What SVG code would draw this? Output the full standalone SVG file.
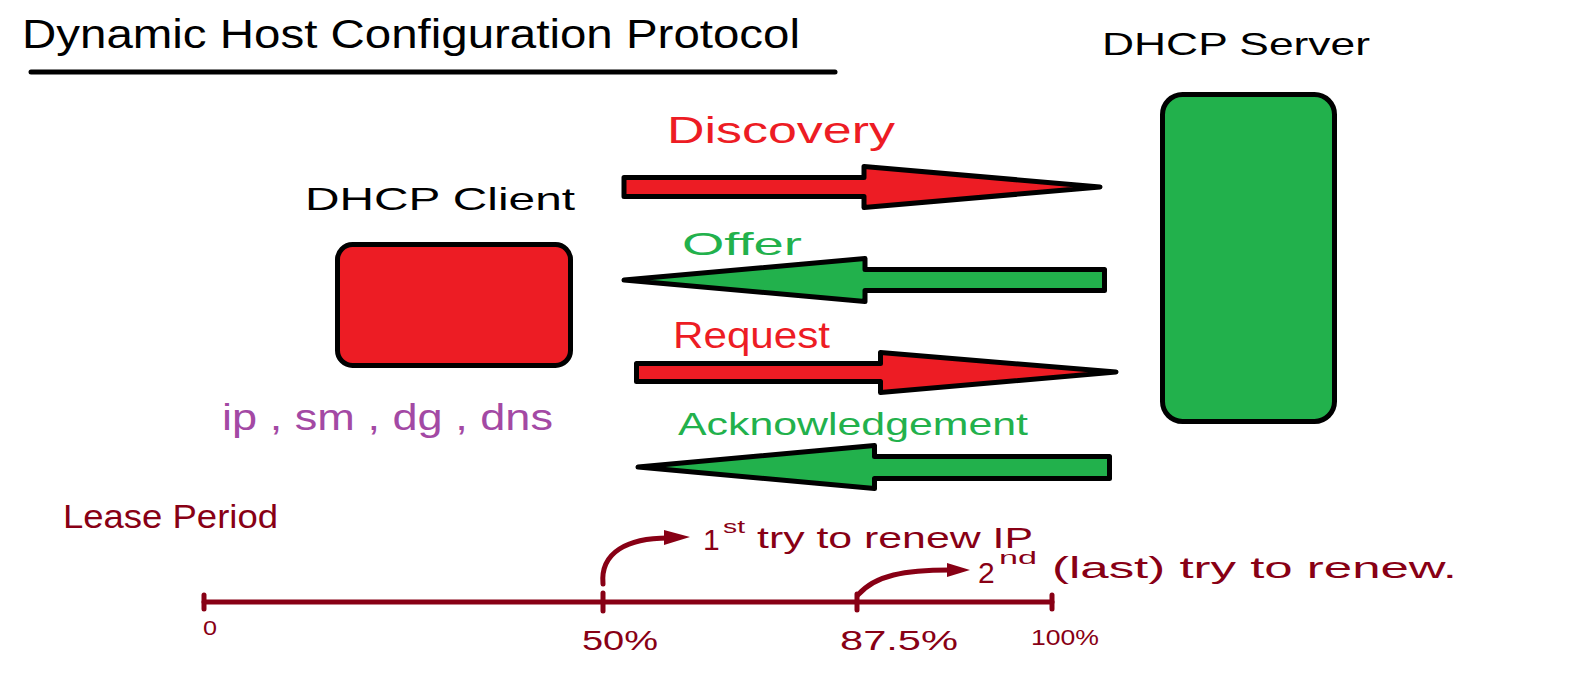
<svg xmlns="http://www.w3.org/2000/svg" width="1588" height="692" viewBox="0 0 1588 692">
<defs>
<style>
text{font-family:"Liberation Sans","DejaVu Sans",sans-serif;}
.blk{fill:#000;}
.red{fill:#ed1c24;}
.grn{fill:#22b14c;}
.dr{fill:#880015;}
.pur{fill:#a349a4;}
.arrow{stroke:#000;stroke-width:5;stroke-linejoin:round;}
.box{stroke:#000;stroke-width:5;}
.tl{stroke:#880015;stroke-width:5;stroke-linecap:round;fill:none;}
</style>
</defs>
<rect width="1588" height="692" fill="#fff"/>

<g id="title">
<text x="22" y="48" font-size="40" textLength="778" lengthAdjust="spacingAndGlyphs" class="blk">Dynamic Host Configuration Protocol</text>
<line x1="31" y1="72" x2="835" y2="72" stroke="#000" stroke-width="5" stroke-linecap="round"/>
</g>

<g id="client">
<text x="305" y="210" font-size="32" textLength="270" lengthAdjust="spacingAndGlyphs" class="blk">DHCP Client</text>
<rect x="337.5" y="244.5" width="233" height="121" rx="15" class="box red"/>
<text x="222" y="430" font-size="36" textLength="331" lengthAdjust="spacingAndGlyphs" class="pur">ip , sm , dg , dns</text>
</g>

<g id="server">
<text x="1102" y="55" font-size="32" textLength="268" lengthAdjust="spacingAndGlyphs" class="blk">DHCP Server</text>
<rect x="1162.5" y="94.5" width="172" height="327" rx="20" class="box grn"/>
</g>

<g id="connectors">
<g id="discovery">
<polygon points="624,177.5 864,177.5 864,166.5 1100,187 864,207.5 864,196.5 624,196.5" class="arrow red"/>
<text x="667" y="143" font-size="36" textLength="228" lengthAdjust="spacingAndGlyphs" class="red">Discovery</text>
</g>
<g id="offer">
<polygon points="624,280 865,258.5 865,269.5 1104.5,269.5 1104.5,290.5 865,290.5 865,301.5" class="arrow grn"/>
<text x="682" y="255" font-size="32" textLength="120" lengthAdjust="spacingAndGlyphs" class="grn">Offer</text>
</g>
<g id="request">
<polygon points="636.5,363.5 880.5,363.5 880.5,352.5 1116,372 880.5,392.5 880.5,381.5 636.5,381.5" class="arrow red"/>
<text x="673" y="348" font-size="36" textLength="157" lengthAdjust="spacingAndGlyphs" class="red">Request</text>
</g>
<g id="ack">
<polygon points="638,467 874.5,445.5 874.5,456.5 1109.5,456.5 1109.5,478.5 874.5,478.5 874.5,488.5" class="arrow grn"/>
<text x="678" y="435" font-size="32" textLength="350" lengthAdjust="spacingAndGlyphs" class="grn">Acknowledgement</text>
</g>
</g>

<g id="lease">
<text x="63" y="528" font-size="34" textLength="215" lengthAdjust="spacingAndGlyphs" class="dr">Lease Period</text>
<line x1="204" y1="602" x2="1052" y2="602" class="tl"/>
<line x1="204" y1="595" x2="204" y2="609" class="tl"/>
<line x1="603" y1="593" x2="603" y2="611" class="tl"/>
<line x1="857" y1="594" x2="857" y2="610" class="tl"/>
<line x1="1052" y1="595" x2="1052" y2="609" class="tl"/>
<text x="203" y="635" font-size="20" textLength="14" lengthAdjust="spacingAndGlyphs" class="dr">0</text>
<text x="582" y="650" font-size="28" textLength="76" lengthAdjust="spacingAndGlyphs" class="dr">50%</text>
<text x="840" y="650" font-size="28" textLength="118" lengthAdjust="spacingAndGlyphs" class="dr">87.5%</text>
<text x="1031" y="645" font-size="22" textLength="68" lengthAdjust="spacingAndGlyphs" class="dr">100%</text>
</g>

<g id="renew1">
<path d="M603,584 C600,552 628,538 668,538" class="tl"/>
<polygon points="664,530 690,537 664,545" class="dr"/>
<text font-size="30" class="dr"><tspan x="703" y="550">1</tspan><tspan x="723" y="533" font-size="18" textLength="22" lengthAdjust="spacingAndGlyphs">st</tspan><tspan x="757" y="548" textLength="276" lengthAdjust="spacingAndGlyphs">try to renew IP</tspan></text>
</g>

<g id="renew2">
<path d="M858,595 C875,575 905,570 950,570" class="tl"/>
<polygon points="947,563 970,570 947,577" class="dr"/>
<text font-size="30" class="dr"><tspan x="978" y="583">2</tspan><tspan x="999" y="564" font-size="18" textLength="38" lengthAdjust="spacingAndGlyphs">nd</tspan><tspan x="1052" y="578" textLength="405" lengthAdjust="spacingAndGlyphs">(last) try to renew.</tspan></text>
</g>
</svg>
